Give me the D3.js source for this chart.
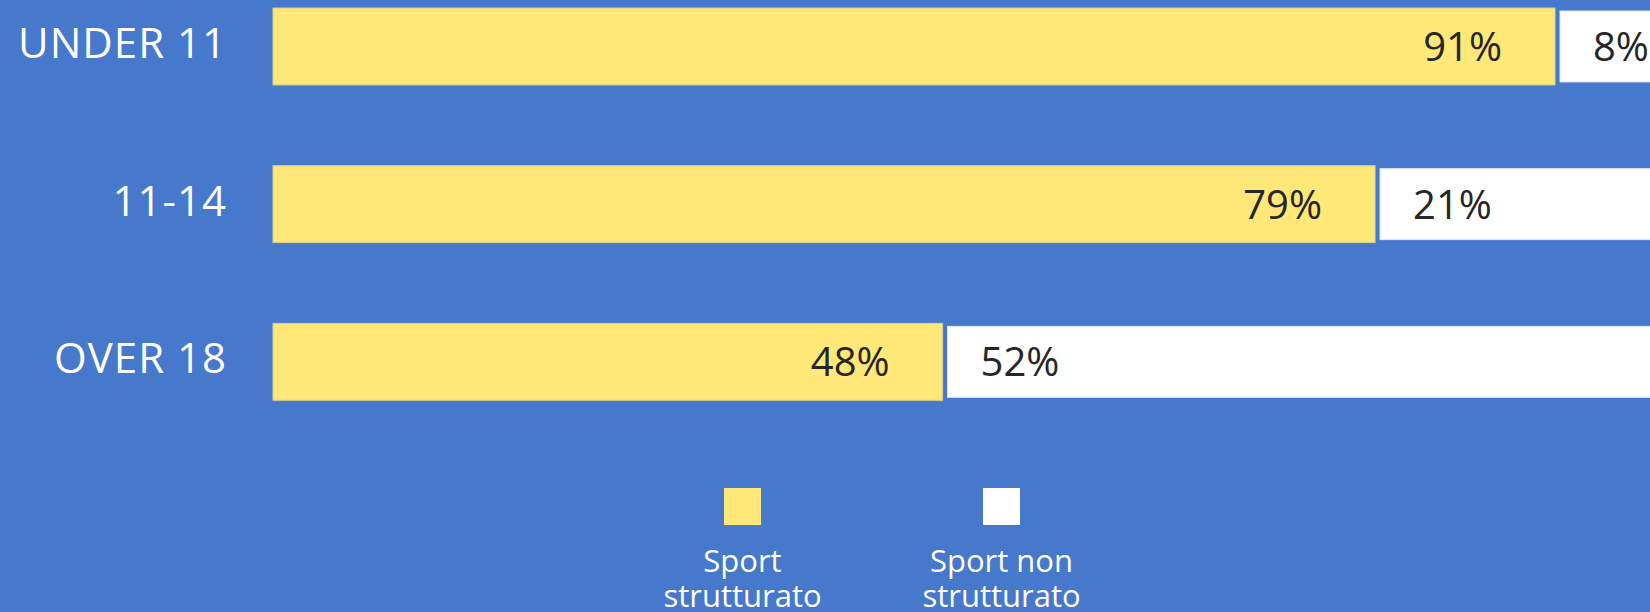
<!DOCTYPE html>
<html>
<head>
<meta charset="utf-8">
<script src="https://cdn.jsdelivr.net/npm/d3@7"></script>
<style>
  html, body { margin: 0; padding: 0; background: #4678cc; }
  svg { display: block; }
</style>
</head>
<body>
<svg id="chart" width="1650" height="612"></svg>
<script>
// data
var categories = ["UNDER 11", "11-14", "OVER 18"];
var strutturato = [91.9, 79, 48];
var nonStrutturato = [8.1, 21, 52];
var seriesNames = ["Sport\nstrutturato", "Sport non\nstrutturato"];
var seriesColors = ["#ffe778", "#ffffff"];

var bg = "#4678cc", textDark = "#262626", fontFamily = "'Open Sans', sans-serif";

var svg = d3.select("#chart");
svg.append("rect").attr("width", 1650).attr("height", 612).attr("fill", bg);

var x = d3.scaleLinear().domain([0, 100]).range([273, 1668]);
var y = d3.scaleBand().domain(categories).range([8, 400.3]).paddingInner(0.512).paddingOuter(0);

var rows = categories.map(function (c, i) {
    return { key: c, a: strutturato[i], b: nonStrutturato[i] };
});

var gap = 5, inset = 3;

var g = svg.append("g").attr("class", "rows");

var row = g.selectAll(".row").data(rows).enter()
    .append("g").attr("class", "row");

// category labels
row.append("text")
    .attr("x", 227).attr("y", d => y(d.key) + 50)
    .attr("text-anchor", "end")
    .attr("fill", "#fff")
    .style("font", "42px " + fontFamily)
    .style("letter-spacing", "1px")
    .text(d => d.key);

// sport strutturato
row.append("rect")
    .attr("x", x(0)).attr("y", d => y(d.key))
    .attr("width", d => x(d.a) - x(0))
    .attr("height", y.bandwidth())
    .attr("fill", seriesColors[0])
    .attr("stroke", "#d9cf8e").attr("stroke-width", 1);

// sport non strutturato
row.append("rect")
    .attr("x", d => x(d.a) + gap).attr("y", d => y(d.key) + inset)
    .attr("width", d => x(d.a + d.b) - x(d.a))
    .attr("height", y.bandwidth() - 2 * inset)
    .attr("fill", seriesColors[1])
    .attr("stroke", "#dfe7f5").attr("stroke-width", 1);

// value labels
row.append("text")
    .attr("x", d => x(d.a) - 53).attr("y", d => y(d.key) + 53)
    .attr("text-anchor", "end")
    .attr("fill", textDark)
    .style("font", "40px " + fontFamily)
    .text(d => Math.floor(d.a) + "%");

row.append("text")
    .attr("x", d => x(d.a) + gap + 33).attr("y", d => y(d.key) + 53)
    .attr("text-anchor", "start")
    .attr("fill", textDark)
    .style("font", "40px " + fontFamily)
    .text(d => Math.floor(d.b) + "%");

// legend
var legend = svg.append("g").attr("class", "legend");
var item = legend.selectAll(".legend-item").data(seriesNames).enter()
    .append("g").attr("class", "legend-item")
    .attr("transform", (d, i) => "translate(" + (742.5 + i * 259) + ",0)");

item.append("rect")
    .attr("x", -18.5).attr("y", 488)
    .attr("width", 37).attr("height", 37)
    .attr("fill", (d, i) => seriesColors[i]);

item.append("text")
    .attr("text-anchor", "middle")
    .attr("fill", "#fff")
    .style("font", "31px " + fontFamily)
    .selectAll("tspan")
    .data(d => d.split("\n")).enter()
    .append("tspan")
    .attr("x", 0)
    .attr("y", (d, i) => 572 + i * 35)
    .text(d => d);
</script>
</body>
</html>
